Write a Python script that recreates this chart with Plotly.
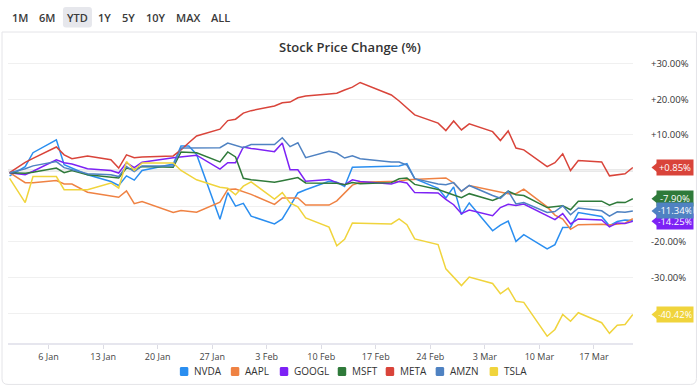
import plotly.graph_objects as go

dates = ["2025-01-01","2025-01-03","2025-01-04","2025-01-07","2025-01-08","2025-01-09","2025-01-11",
         "2025-01-14","2025-01-15","2025-01-16","2025-01-17","2025-01-18","2025-01-22","2025-01-23",
         "2025-01-24","2025-01-25","2025-01-28","2025-01-29","2025-01-30","2025-01-31","2025-02-01",
         "2025-02-04","2025-02-05","2025-02-06","2025-02-07","2025-02-08","2025-02-11","2025-02-12",
         "2025-02-13","2025-02-14","2025-02-15","2025-02-19","2025-02-20","2025-02-21","2025-02-22",
         "2025-02-25","2025-02-26","2025-02-27","2025-02-28","2025-03-01","2025-03-04","2025-03-05",
         "2025-03-06","2025-03-07","2025-03-08","2025-03-11","2025-03-12","2025-03-13","2025-03-14",
         "2025-03-15","2025-03-18","2025-03-19","2025-03-20","2025-03-21","2025-03-22"]

NVDA = [-1.5, 1.1, 5.0, 8.6, 1.6, 0.7, -1.2, -3.1, -4.2, -1.5, -2.7, 0.0, 1.8, 6.9, 6.9, 4.5, -13.7, -6.2,
        -10.0, -9.2, -12.8, -15.0, -13.6, -10.0, -6.3, -5.4, -3.0, -3.3, -4.5, 0.9, 1.0, 1.3, 1.3, 1.9,
        -2.3, -5.0, -7.7, -4.6, -12.4, -9.1, -16.9, -15.3, -14.2, -19.9, -18.0, -22.0, -20.8, -16.0,
        -15.9, -11.8, -12.9, -15.5, -14.3, -13.9, -14.0]
AAPL = [-0.6, -3.4, -3.4, -2.8, -3.8, -3.8, -6.1, -7.1, -7.5, -5.7, -9.3, -8.7, -11.8, -11.2, -11.5,
        -11.7, -8.9, -5.3, -5.2, -6.0, -6.7, -9.5, -7.7, -7.7, -7.7, -9.7, -9.7, -8.5, -6.3, -4.1, -3.3,
        -3.1, -3.0, -2.6, -2.5, -2.0, -2.1, -3.5, -5.9, -4.2, -5.7, -6.0, -6.5, -6.5, -5.2, -10.2, -12.5,
        -13.6, -16.5, -15.2, -15.1, -15.3, -15.0, -14.8, -13.5]
GOOGL = [-0.6, -1.2, -0.2, 3.0, 2.2, 1.8, 0.5, 0.0, -0.7, 2.2, 0.8, 2.3, 3.6, 3.8, 4.0, 4.3, 0.4, 2.2, 2.2,
         6.6, 6.2, 5.3, 7.7, 0.2, 0.2, -3.0, -2.5, -3.4, -4.0, -2.6, -3.1, -3.8, -3.1, -3.5, -6.2, -6.3,
         -8.1, -9.6, -12.1, -11.1, -12.7, -10.4, -9.5, -9.8, -9.4, -12.8, -13.8, -12.1, -15.0, -13.6,
         -13.9, -15.8, -14.7, -14.9, -14.25]
MSFT = [-0.6, -0.8, -0.5, 0.7, -0.6, 0.0, -1.2, -1.9, -2.1, 0.7, 0.2, 1.1, 0.9, 5.2, 5.1, 5.0, 2.4, 5.2,
        3.8, -2.2, -2.6, -3.3, -2.9, -2.4, -2.0, -3.5, -3.5, -3.6, -4.0, -3.4, -3.7, -3.4, -2.3, -2.1,
        -3.9, -5.3, -6.1, -6.8, -7.6, -6.5, -8.4, -7.5, -5.8, -6.8, -7.0, -10.4, -10.2, -9.9, -11.0,
        -8.6, -8.6, -9.7, -8.9, -9.0, -7.9]
META = [-0.6, 2.3, 3.4, 6.6, 4.4, 3.3, 4.1, 3.0, 0.7, 4.4, 3.6, 3.8, 4.1, 5.8, 7.8, 9.7, 11.6, 14.0, 14.4,
        16.1, 16.8, 18.1, 19.0, 19.2, 20.4, 20.9, 21.5, 21.7, 22.6, 23.4, 24.7, 21.2, 19.5, 17.6, 15.6,
        13.3, 11.2, 13.9, 11.4, 13.1, 10.9, 8.4, 11.1, 6.3, 5.8, 1.1, 2.2, 4.7, 0.0, 2.8, 2.4, -1.5,
        -1.2, -0.9, 0.85]
AMZN = [-0.6, 0.5, 1.3, 2.5, 0.8, 0.3, -0.9, -1.2, -1.7, 1.1, -0.3, 1.3, 1.3, 6.3, 6.3, 6.3, 6.4, 7.7,
        7.0, 6.4, 7.3, 7.3, 9.2, 6.7, 7.8, 3.6, 5.4, 4.9, 3.5, 4.1, 3.3, 2.4, 2.4, 1.5, -2.3, -3.8, -4.0,
        -3.4, -5.8, -4.2, -7.0, -7.8, -5.8, -9.4, -9.0, -11.8, -11.5, -9.9, -12.4, -10.5, -11.3, -12.8,
        -11.6, -11.7, -11.34]
TSLA = [-2.2, -9.0, -1.7, -1.7, -5.4, -5.4, -5.4, -3.5, -4.9, 2.5, 0.0, 2.1, 2.1, 0.0, -1.3, -2.6, -4.7,
        -5.0, -6.8, -4.4, -3.2, -8.0, -6.2, -9.1, -10.2, -13.3, -15.9, -21.1, -19.3, -14.7, -14.8, -15.0,
        -13.6, -15.2, -19.2, -20.8, -27.6, -30.0, -32.3, -29.9, -31.7, -34.6, -33.0, -36.7, -37.0, -46.5,
        -44.6, -40.4, -42.3, -39.9, -42.7, -45.7, -43.4, -43.2, -40.42]

names = ["NVDA", "AAPL", "GOOGL", "MSFT", "META", "AMZN", "TSLA"]
series = [NVDA, AAPL, GOOGL, MSFT, META, AMZN, TSLA]
colors = ["#2a8ef0", "#ef8243", "#7d22f5", "#2f7a3a", "#d9443a", "#4f82c2", "#f0d43c"]

# gridlines every 10%; labels hidden where the last-value tags cover them
ytick_vals = [30, 20, 10, 0, -10, -20, -30, -40]
ytick_text = ["+30.00%", "+20.00%", "+10.00%", "", "", "-20.00%", "-30.00%", ""]
buttons = ["1M", "6M", "YTD", "1Y", "5Y", "10Y", "MAX", "ALL"]
tagged = ["TSLA", "GOOGL", "MSFT", "AMZN", "META"]   # draw order, bottom first
title = "Stock Price Change (%)"

FONT = "Open Sans, Noto Sans, sans-serif"
W, H = 700, 387
PL, PR, PT, PB = 8, 633.5, 57, 343.5


def px(x):
    return (x - PL) / (PR - PL)


def py(y):
    return (PB - y) / (PB - PT)


def rounded_rect(xa, xb, ya, yb, r):
    x0, x1 = px(xa), px(xb)
    y0, y1 = py(yb), py(ya)
    rx, ry = r / (PR - PL), r / (PB - PT)
    return (f"M{x0+rx},{y1} L{x1-rx},{y1} Q{x1},{y1} {x1},{y1-ry} L{x1},{y0+ry} Q{x1},{y0} {x1-rx},{y0} "
            f"L{x0+rx},{y0} Q{x0},{y0} {x0},{y0+ry} L{x0},{y1-ry} Q{x0},{y1} {x0+rx},{y1} Z")


fig = go.Figure()
for n, s, c in zip(names, series, colors):
    fig.add_trace(go.Scatter(x=dates, y=s, mode="lines", name=n, showlegend=False,
                             line=dict(color=c, width=1.5), hoverinfo="skip"))

shapes = []
x0, x1, yt, yb = px(2), px(697), py(32), py(385)
rx, ry = 6 / (PR - PL), 6 / (PB - PT)
shapes.append(dict(type="path", xref="paper", yref="paper",
                   path=f"M{x0},{yt} L{x1},{yt} L{x1},{yb+ry} Q{x1},{yb} {x1-rx},{yb} "
                        f"L{x0+rx},{yb} Q{x0},{yb} {x0},{yb+ry} Z",
                   line=dict(color="#e4e4e8", width=1), fillcolor="rgba(0,0,0,0)", layer="below"))
shapes.append(dict(type="path", xref="paper", yref="paper", path=rounded_rect(63, 92, 7, 27.5, 3),
                   line=dict(width=0), fillcolor="#e6e7ec", layer="below"))
shapes.append(dict(type="line", xref="paper", yref="y", x0=0, x1=1, y0=0, y1=0,
                   line=dict(color="#d4d4d4", width=2), layer="below"))

annotations = []
btn_x = [20, 47, 77.5, 104.5, 129, 156, 188, 221]
for b, bxx in zip(buttons, btn_x):
    annotations.append(dict(text=b, x=px(bxx), y=py(17.5), xref="paper", yref="paper",
                            showarrow=False, xanchor="center", yanchor="middle",
                            font=dict(family=FONT, size=11, color="#3a3a3a", weight=600)))

leg_sq_x = [180, 231, 280, 338, 386, 436, 490]
LEG_Y = 372
for n, c, lx in zip(names, colors, leg_sq_x):
    shapes.append(dict(type="path", xref="paper", yref="paper",
                       path=rounded_rect(lx, lx + 8.5, LEG_Y - 4.5, LEG_Y + 4.5, 1.5),
                       fillcolor=c, line=dict(width=0)))
    annotations.append(dict(text=n, x=px(lx + 12.5), y=py(LEG_Y), xref="paper", yref="paper",
                            showarrow=False, xanchor="left", yanchor="middle",
                            font=dict(family=FONT, size=10, color="#333333")))

for n in tagged:
    i = names.index(n)
    v = series[i][-1]
    c = colors[i]
    txt = f"{v:+.2f}%"
    hh = 4.5 / 3.57
    shapes.append(dict(type="path", xref="paper", yref="y",
                       path=f"M{px(652)},{v} L{px(657.5)},{v+hh} L{px(657.5)},{v-hh} Z",
                       fillcolor=c, line=dict(width=0), layer="above"))
    annotations.append(dict(text=txt, x=px(657), y=v, xref="paper", yref="y", showarrow=False,
                            xanchor="left", yanchor="middle", bgcolor=c, borderpad=1.5,
                            width=33, height=12, align="center",
                            font=dict(family=FONT, size=9.5, color="#ffffff")))

fig.update_layout(
    width=W, height=H,
    margin=dict(l=PL, r=W - PR, t=PT, b=H - PB, pad=0),
    paper_bgcolor="#ffffff", plot_bgcolor="#ffffff",
    font=dict(family=FONT, color="#333333"),
    showlegend=False,
    title=dict(text=title, x=0.5, xref="container", y=1 - 47 / H, yref="container",
               xanchor="center", yanchor="middle",
               font=dict(family=FONT, size=13, color="#333333", weight=600)),
    xaxis=dict(type="date", range=["2024-12-31 19:00", "2025-03-22 00:30"],
               tick0="2025-01-06", dtick=7 * 86400000, tickformat="%-d %b",
               showgrid=False, zeroline=False, showline=True, linecolor="#e6e6ee", linewidth=2,
               ticks="outside", ticklen=4, tickcolor="#dcdce4", tickwidth=1,
               tickfont=dict(family=FONT, size=9, color="#444444")),
    yaxis=dict(range=[-48.4, 31.85], side="right", tickvals=ytick_vals, ticktext=ytick_text,
               showgrid=True, gridcolor="#f0f0f0", gridwidth=1, zeroline=False,
               ticks="", ticklabelstandoff=17,
               tickfont=dict(family=FONT, size=9.5, color="#333333")),
    shapes=shapes, annotations=annotations,
)

fig.write_html("out.html", config={"displayModeBar": False},
               post_script="document.body.style.margin='0';document.body.style.overflow='hidden';")
